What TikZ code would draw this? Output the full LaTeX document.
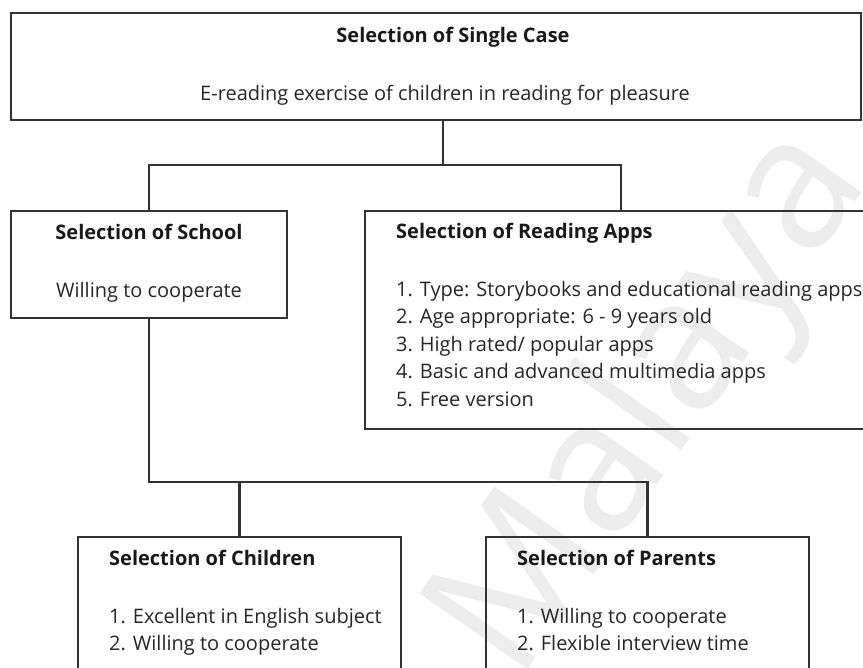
\documentclass[tikz,border=0pt]{standalone}
\usepackage{fontspec}
\setmainfont{Open Sans}
\begin{document}
\begin{tikzpicture}[x=1pt,y=-1pt,
  box/.style={draw=black!80, line width=2.2pt, inner sep=0pt, minimum width=#1},
  txt/.style={inner sep=0pt, text height=14.5pt, text depth=4pt, text=black!85, font=\fontsize{20}{24}\selectfont},
  hd/.style={txt, text=black!90, font=\fontsize{20}{24}\selectfont\bfseries},
  conn/.style={draw=black!80, line width=2.2pt}
]
\useasboundingbox (0,0) rectangle (863,668);
\clip (0,0) rectangle (863,668);
% watermark
\node[rotate=55, text=black!7, inner sep=0pt, font=\fontsize{185}{185}\selectfont] (wm) at (655,405) {Malaya};
% boxes
\node[box=850pt, minimum height=107pt] (top) at (436,66.5) {};
\node[box=276pt, minimum height=107pt] (school) at (149,264.5) {};
\node[box=535pt, minimum height=218pt] (apps) at (632.5,320) {};
\node[box=323pt, minimum height=183pt] (children) at (239.5,628.5) {};
\node[box=323pt, minimum height=183pt] (parents) at (647.5,628.5) {};
% texts
\node[hd] (topT) at (453,37) {Selection of Single Case};
\node[txt] (topS) at (445,95) {E-reading exercise of children in reading for pleasure};
\node[hd] (schT) at (149,234) {Selection of School};
\node[txt] (schS) at (149,292) {Willing to cooperate};
\node[hd, anchor=west] (appT) at (396,233) {Selection of Reading Apps};
\node[txt, anchor=west] (app1) at (396,291) {1. Type: Storybooks and educational reading apps};
\node[txt, anchor=west] (app2) at (396,318.5) {2. Age appropriate: 6 - 9 years old};
\node[txt, anchor=west] (app3) at (396,346) {3. High rated/ popular apps};
\node[txt, anchor=west] (app4) at (396,373.5) {4. Basic and advanced multimedia apps};
\node[txt, anchor=west] (app5) at (396,401) {5. Free version};
\node[hd, anchor=west] (chT) at (109,560) {Selection of Children};
\node[txt, anchor=west] (ch1) at (109,618) {1. Excellent in English subject};
\node[txt, anchor=west] (ch2) at (109,645.5) {2. Willing to cooperate};
\node[hd, anchor=west] (paT) at (517,560) {Selection of Parents};
\node[txt, anchor=west] (pa1) at (517,618) {1. Willing to cooperate};
\node[txt, anchor=west] (pa2) at (517,645.5) {2. Flexible interview time};
% connectors
\coordinate (j1) at (443,165);
\coordinate (aT) at (621,211);
\coordinate (j2) at (149,482);
\draw[conn] (j1 |- top.south) -- (j1);
\draw[conn] (school.north) -- (school.north |- j1) -- (aT |- j1) -- (aT);
\draw[conn] (school.south) -- (j2) -- (parents.north |- j2) -- (parents.north);
\draw[conn] (children.north |- j2) -- (children.north);
\end{tikzpicture}
\end{document}
